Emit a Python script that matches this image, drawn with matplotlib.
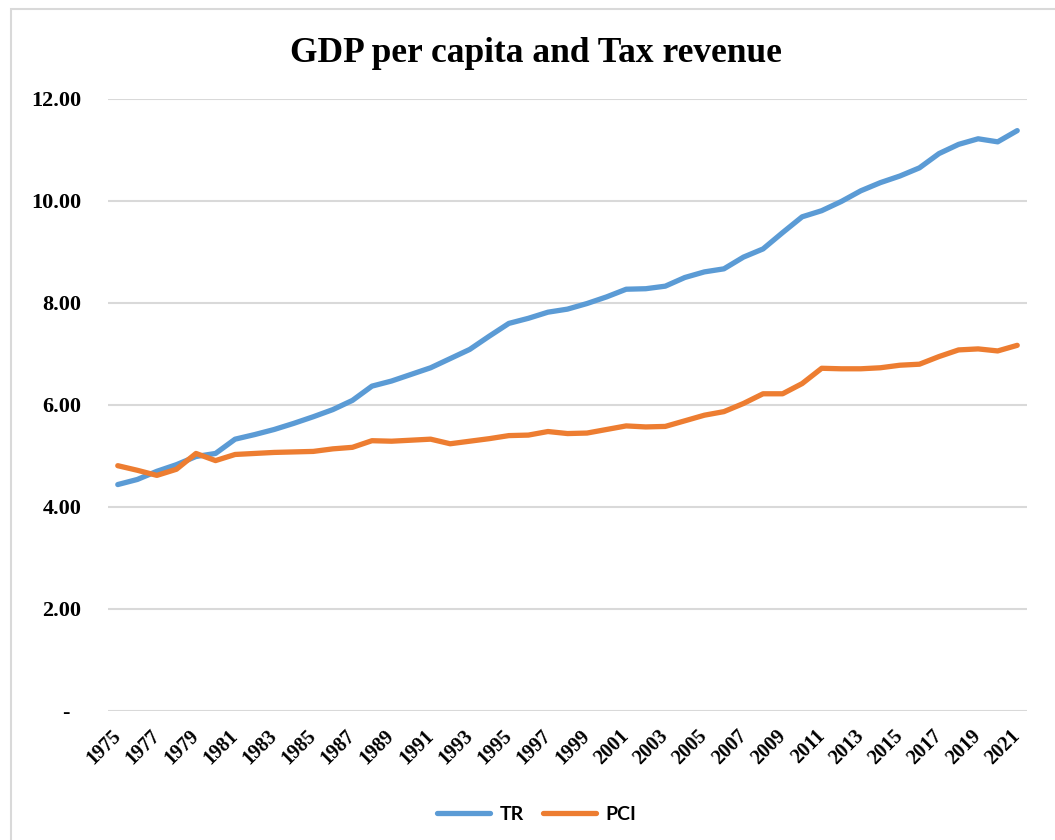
import matplotlib
matplotlib.use("Agg")
import matplotlib.pyplot as plt
from matplotlib.patches import Rectangle

years = list(range(1975, 2022))

tr = [4.44, 4.54, 4.70, 4.83, 4.99, 5.05, 5.33, 5.42, 5.52, 5.64,
      5.77, 5.91, 6.09, 6.37, 6.47, 6.60, 6.73, 6.91, 7.09, 7.35,
      7.60, 7.70, 7.82, 7.88, 7.99, 8.12, 8.27, 8.28, 8.33, 8.50,
      8.61, 8.67, 8.90, 9.06, 9.38, 9.69, 9.81, 9.99, 10.20, 10.36,
      10.49, 10.65, 10.93, 11.11, 11.22, 11.16, 11.38]

pci = [4.81, 4.72, 4.62, 4.74, 5.05, 4.91, 5.03, 5.05, 5.07, 5.08,
       5.09, 5.14, 5.17, 5.30, 5.29, 5.31, 5.33, 5.24, 5.29, 5.34,
       5.40, 5.41, 5.48, 5.44, 5.45, 5.52, 5.59, 5.57, 5.58, 5.69,
       5.80, 5.87, 6.03, 6.22, 6.22, 6.42, 6.72, 6.71, 6.71, 6.73,
       6.78, 6.80, 6.95, 7.08, 7.10, 7.06, 7.17]

y_ticks = [0, 2, 4, 6, 8, 10, 12]
y_labels = ["-  ", "2.00", "4.00", "6.00", "8.00", "10.00", "12.00"]
x_ticks = years[::2]

series_names = ["TR", "PCI"]
colors = ["#5B9BD5", "#ED7D31"]

W, H = 1055, 840
fig = plt.figure(figsize=(W / 100, H / 100), dpi=100)
fig.patch.set_facecolor("white")

# outer chart frame
fig.patches.append(Rectangle((11 / W, -0.1), 1.2, 1 - 9 / H + 0.1,
                             transform=fig.transFigure, fill=False,
                             edgecolor="#d9d9d9", linewidth=1.5))

ax = fig.add_axes([108 / W, (H - 711) / H, (1027 - 108) / W, (711 - 99) / H])
ax.plot(years, tr, color=colors[0], linewidth=3.8, label=series_names[0],
        solid_capstyle="round", solid_joinstyle="round")
ax.plot(years, pci, color=colors[1], linewidth=3.8, label=series_names[1],
        solid_capstyle="round", solid_joinstyle="round")

ax.set_xlim(years[0] - 0.5, years[-1] + 0.5)
ax.set_ylim(0, 12)
ax.set_yticks(y_ticks)
ax.set_yticklabels(y_labels)
ax.set_xticks(x_ticks)
ax.set_xticklabels([str(y) for y in x_ticks], rotation=45, ha="right",
                   va="center", rotation_mode="anchor")

serif = ["Liberation Serif", "DejaVu Serif"]
for lab in ax.get_yticklabels():
    lab.set_fontfamily(serif)
    lab.set_fontweight("bold")
    lab.set_fontsize(16)
for lab in ax.get_xticklabels():
    lab.set_fontfamily(serif)
    lab.set_fontweight("bold")
    lab.set_fontsize(14.5)

ax.tick_params(axis="y", length=0, pad=19)
ax.tick_params(axis="x", length=0, pad=16)
ax.grid(axis="y", color="#d9d9d9", linewidth=1.5)
ax.set_axisbelow(True)
for s in ax.spines.values():
    s.set_visible(False)

fig.text(536 / W, 1 - 62 / H, "GDP per capita and Tax revenue",
         ha="center", va="baseline", fontsize=25.5, fontweight="bold",
         family=serif)

fig.legend(loc="center", bbox_to_anchor=(537 / W, 1 - 814 / H), ncol=2,
           frameon=False, prop={"family": "Lato", "weight": "bold", "size": 14},
           handlelength=2.7, handletextpad=0.5, columnspacing=1.0)

fig.savefig("out.png", dpi=100, facecolor="white")
